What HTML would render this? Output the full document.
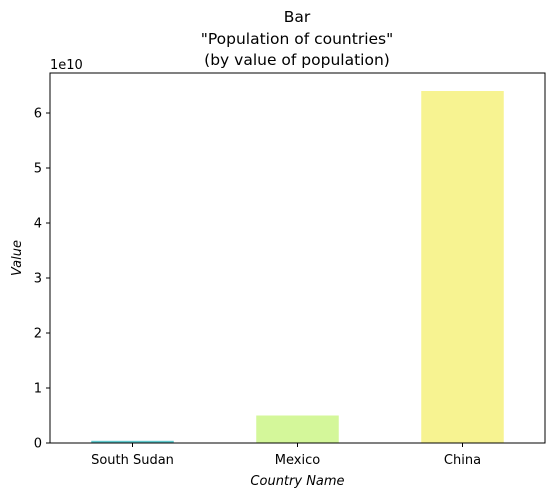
<!DOCTYPE html>
<html><head><meta charset="utf-8"><style>
body{margin:0;background:#fff;}
svg{display:block;font-family:"DejaVu Sans","Liberation Sans",sans-serif;}
</style></head><body>
<svg id="chart" width="555" height="499">
<g id="title" font-size="15.5" text-anchor="middle" fill="#000">
<text x="297" y="22">Bar</text>
<text x="297" y="44">"Population of countries"</text>
<text x="297" y="65">(by value of population)</text>
</g>
<g id="bars"></g>
<g id="axes"></g>
</svg>
<script>
const categories = ["South Sudan","Mexico","China"];
const values = [0.04e10, 0.5e10, 6.4e10];
const colors = ["#5fc8cc","#d4f79a","#f7f391"];
const yTicks = [0,1,2,3,4,5,6];
const L=50,R=545,T=73,B=443,perUnit=55;
const y=v=>B-v/1e10*perUnit;
const band=(R-L)/categories.length;
const x=i=>L+band*(i+0.5);
const ns="http://www.w3.org/2000/svg";
const bars=document.getElementById('bars'),axes=document.getElementById('axes');
function mk(tag,attrs,parent,text){const e=document.createElementNS(ns,tag);for(const k in attrs)e.setAttribute(k,attrs[k]);if(text!==undefined)e.textContent=text;parent.appendChild(e);return e;}
categories.forEach((c,i)=>{
 const w=band*0.5;
 const r=mk('rect',{x:x(i)-w/2,y:y(values[i]),width:w,height:B-y(values[i]),fill:colors[i]},bars);
 
 
 mk('line',{x1:x(i),x2:x(i),y1:B,y2:B+4,stroke:'#000'},axes);
 const t=mk('text',{x:x(i),y:B+21,'text-anchor':'middle','font-size':13},axes,c);
 
 
});
yTicks.forEach(v=>{
 mk('line',{x1:L-4,x2:L,y1:y(v*1e10),y2:y(v*1e10),stroke:'#000'},axes);
 const t=mk('text',{x:L-8,y:y(v*1e10)+4.5,'text-anchor':'end','font-size':13},axes,String(v));
 
 
});
const f=mk('rect',{x:L,y:T,width:R-L,height:B-T,fill:'none',stroke:'#000','stroke-width':1},axes);


const off=mk('text',{x:L,y:T-4,'font-size':13},axes,'1e10');


const xt=mk('text',{x:(L+R)/2,y:485,'text-anchor':'middle','font-size':13,'font-style':'italic'},axes,'Country Name');


const yt=mk('text',{x:0,y:0,'text-anchor':'middle','font-size':13,'font-style':'italic',transform:'translate(21,258) rotate(-90)'},axes,'Value');


</script>
</body></html>
